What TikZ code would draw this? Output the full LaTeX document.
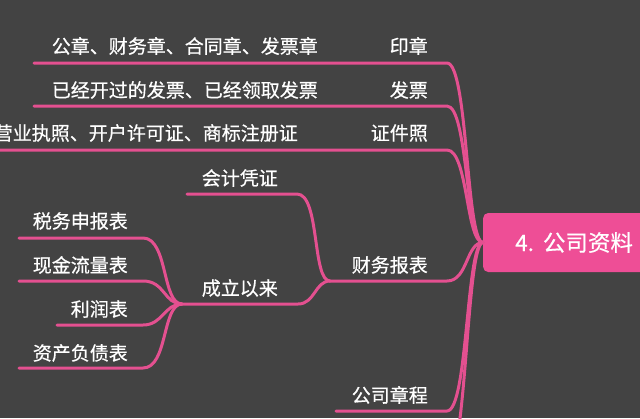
\documentclass[tikz,border=0pt]{standalone}
\usepackage{fontspec}
\newfontfamily\cjk[FakeBold=0.5]{Noto Sans CJK SC}
\definecolor{bgc}{RGB}{67,67,67}
\definecolor{linepink}{RGB}{228,80,144}
\definecolor{boxpink}{RGB}{238,78,150}
\begin{document}
\begin{tikzpicture}[x=1pt,y=-1pt,
  lbl/.style={anchor=east,inner sep=0pt,text=white,font=\cjk\fontsize{19}{19}\selectfont},
  br/.style={draw=linepink,line width=3pt,line cap=round,line join=round},
  rootbox/.style={anchor=west,fill=boxpink,rounded corners=5pt,minimum height=59pt,
    text width=160pt,inner xsep=32pt,inner ysep=0pt,text=white,align=left,
    font=\cjk\fontsize{22.5}{22.5}\selectfont}]
\useasboundingbox (0,0) rectangle (640,418);
\fill[bgc] (0,0) rectangle (640,418);
\clip (0,0) rectangle (640,418);

% root
\node[rootbox] (root) at (483,242.5) {4.\kern9pt 公司资料};

% labels
\node[lbl] (yz) at (428,46) {印章};
\node[lbl] (fp) at (428,90) {发票};
\node[lbl] (zj) at (428,133) {证件照};
\node[lbl] (gz) at (318,46) {公章、财务章、合同章、发票章};
\node[lbl] (yj) at (318,90) {已经开过的发票、已经领取发票};
\node[lbl] (yy) at (298,133) {营业执照、开户许可证、商标注册证};
\node[lbl] (kj) at (278,178) {会计凭证};
\node[lbl] (cw) at (428,265) {财务报表};
\node[lbl] (cl) at (278,288) {成立以来};
\node[lbl] (sw) at (128,221) {税务申报表};
\node[lbl] (xj) at (128,265) {现金流量表};
\node[lbl] (lr) at (128,309) {利润表};
\node[lbl] (zc) at (128,353) {资产负债表};
\node[lbl] (zccheng) at (428,395) {公司章程};

% line end coordinates
\coordinate (gzL) at (34,63);   \coordinate (yzR) at (447,63);
\coordinate (yjL) at (34,106);  \coordinate (fpR) at (447,106);
\coordinate (yyL) at (-5,150);  \coordinate (zjR) at (447,150);
\coordinate (cwJ) at (330,281); \coordinate (cwR) at (447,281);
\coordinate (kjL) at (187,194); \coordinate (kjR) at (297,194);
\coordinate (clJ) at (182,304); \coordinate (clR) at (298,304);
\coordinate (swL) at (19,238);  \coordinate (swR) at (143,238);
\coordinate (xjL) at (19,281);  \coordinate (xjR) at (143,281);
\coordinate (lrL) at (57,325);  \coordinate (lrR) at (143,325);
\coordinate (zcL) at (19,368);  \coordinate (zcR) at (143,368);
\coordinate (gsL) at (336,411); \coordinate (gsR) at (447,411);
\coordinate (nextB) at (445,470);

% branches to root
\draw[br] (gzL) -- (yzR) .. controls +(21,0) and +(-17,0) .. (root.west);
\draw[br] (yjL) -- (fpR) .. controls +(21,0) and +(-17,0) .. (root.west);
\draw[br] (yyL) -- (zjR) .. controls +(21,0) and +(-17,0) .. (root.west);
\draw[br] (cwJ) -- (cwR) .. controls +(21,0) and +(-17,0) .. (root.west);
\draw[br] (gsL) -- (gsR) .. controls +(21,0) and +(-17,0) .. (root.west);
\draw[br] (nextB) .. controls +(22,0) and +(-17,0) .. (root.west);

% branches to 财务报表
\draw[br] (kjL) -- (kjR) .. controls +(23,0) and +(-18,0) .. (cwJ);
\draw[br] (clJ) -- (clR) .. controls +(17,0) and +(-15,0) .. (cwJ);

% branches to 成立以来
\draw[br] (swL) -- (swR) .. controls +(25,0) and +(-20,0) .. (clJ);
\draw[br] (xjL) -- (xjR) .. controls +(22,0) and +(-18,0) .. (clJ);
\draw[br] (lrL) -- (lrR) .. controls +(20,0) and +(-18,0) .. (clJ);
\draw[br] (zcL) -- (zcR) .. controls +(25,0) and +(-20,0) .. (clJ);
\end{tikzpicture}
\end{document}
